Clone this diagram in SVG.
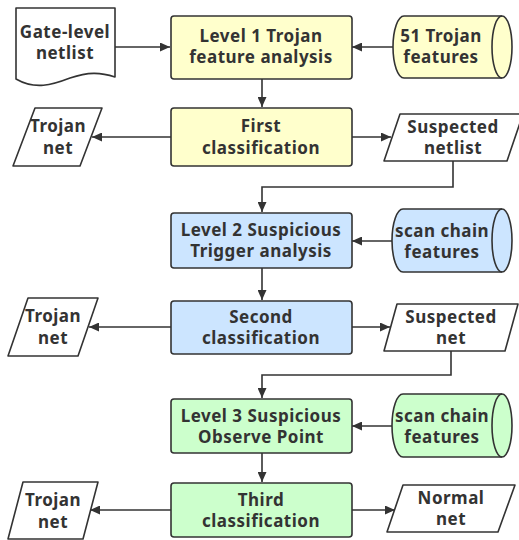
<svg xmlns="http://www.w3.org/2000/svg" width="519" height="540" viewBox="0 0 519 540">
<style>
.s{stroke:#333;stroke-width:1.6;stroke-linejoin:round}
.y{fill:#FFFFCC}.b{fill:#CCE5FF}.g{fill:#CCFFCC}.w{fill:#fff}
.c{fill:none;stroke:#333;stroke-width:1.6}
text{font-family:"Noto Sans","Liberation Sans",sans-serif;font-weight:bold;font-size:17px;letter-spacing:0.5px;fill:#333;text-anchor:middle}
</style>
<defs>
<marker id="a" markerUnits="userSpaceOnUse" markerWidth="11" markerHeight="9" refX="10" refY="4.5" orient="auto">
<path d="M0,0 L10,4.5 L0,9 Z" fill="#333"/>
</marker>
</defs>
<g id="connectors">
<path class="c" d="M115,47 H170" marker-end="url(#a)"/>
<path class="c" d="M393,47 H352" marker-end="url(#a)"/>
<path class="c" d="M262,79 V107" marker-end="url(#a)"/>
<path class="c" d="M171,137 H92" marker-end="url(#a)"/>
<path class="c" d="M351,137 H391" marker-end="url(#a)"/>
<path class="c" d="M453,161 V187 H262 V212" marker-end="url(#a)"/>
<path class="c" d="M392,241 H352" marker-end="url(#a)"/>
<path class="c" d="M262,268 V300" marker-end="url(#a)"/>
<path class="c" d="M171,327 H89" marker-end="url(#a)"/>
<path class="c" d="M351,327 H390" marker-end="url(#a)"/>
<path class="c" d="M451,351 V375 H262 V398" marker-end="url(#a)"/>
<path class="c" d="M392,426 H352" marker-end="url(#a)"/>
<path class="c" d="M262,453 V482" marker-end="url(#a)"/>
<path class="c" d="M171,510 H90" marker-end="url(#a)"/>
<path class="c" d="M351,510 H395" marker-end="url(#a)"/>
</g>
<g id="netlist">
<path class="s w" d="M16,8 H115 V77 C100,72 88,72 70,78 C52,85 35,90 16,79 Z"/>
<text x="65" y="38">Gate-level</text>
<text x="65" y="59">netlist</text>
</g>
<g id="level1">
<rect class="s y" x="171" y="16" width="181" height="63" rx="3"/>
<text x="261" y="42">Level 1 Trojan</text>
<text x="261" y="63">feature analysis</text>
</g>
<g id="features1">
<path class="s y" d="M404,16 H502 A10,31 0 0 1 502,78 H404 A11,31 0 0 1 404,16 Z"/>
<path class="c" d="M502,16 A10,31 0 0 0 502,78"/>
<text x="441" y="42">51 Trojan</text>
<text x="441" y="63">features</text>
</g>
<g id="first">
<rect class="s y" x="171" y="108" width="181" height="58" rx="3"/>
<text x="261" y="132">First</text>
<text x="261" y="154">classification</text>
</g>
<g id="trojan1">
<path class="s w" d="M35,108 H102 L80,166 H13 Z"/>
<text x="58" y="132">Trojan</text>
<text x="58" y="154">net</text>
</g>
<g id="suspected1">
<path class="s w" d="M400,114 H523 L507,161 H384 Z"/>
<text x="453" y="133">Suspected</text>
<text x="453" y="154">netlist</text>
</g>
<g id="level2">
<rect class="s b" x="171" y="213" width="181" height="55" rx="3"/>
<text x="261" y="236">Level 2 Suspicious</text>
<text x="261" y="257">Trigger analysis</text>
</g>
<g id="features2">
<path class="s b" d="M403,209 H502 A10,31.5 0 0 1 502,272 H403 A11,31.5 0 0 1 403,209 Z"/>
<path class="c" d="M502,209 A10,31.5 0 0 0 502,272"/>
<text x="442" y="237">scan chain</text>
<text x="442" y="258">features</text>
</g>
<g id="second">
<rect class="s b" x="171" y="301" width="181" height="53" rx="3"/>
<text x="261" y="323">Second</text>
<text x="261" y="344">classification</text>
</g>
<g id="trojan2">
<path class="s w" d="M28,298 H98 L78,356 H8 Z"/>
<text x="53" y="322">Trojan</text>
<text x="53" y="344">net</text>
</g>
<g id="suspected2">
<path class="s w" d="M397,304 H518 L505,351 H384 Z"/>
<text x="451" y="323">Suspected</text>
<text x="451" y="344">net</text>
</g>
<g id="level3">
<rect class="s g" x="171" y="399" width="181" height="54" rx="3"/>
<text x="261" y="422">Level 3 Suspicious</text>
<text x="261" y="443">Observe Point</text>
</g>
<g id="features3">
<path class="s g" d="M403,394 H502 A10,31.5 0 0 1 502,457 H403 A11,31.5 0 0 1 403,394 Z"/>
<path class="c" d="M502,394 A10,31.5 0 0 0 502,457"/>
<text x="442" y="422">scan chain</text>
<text x="442" y="443">features</text>
</g>
<g id="third">
<rect class="s g" x="171" y="483" width="181" height="54" rx="3"/>
<text x="261" y="506">Third</text>
<text x="261" y="527">classification</text>
</g>
<g id="trojan3">
<path class="s w" d="M23,482 H98 L83,539 H8 Z"/>
<text x="53" y="506">Trojan</text>
<text x="53" y="528">net</text>
</g>
<g id="normal">
<path class="s w" d="M403,485 H515 L498,532 H387 Z"/>
<text x="451" y="504">Normal</text>
<text x="451" y="525">net</text>
</g>
</svg>
